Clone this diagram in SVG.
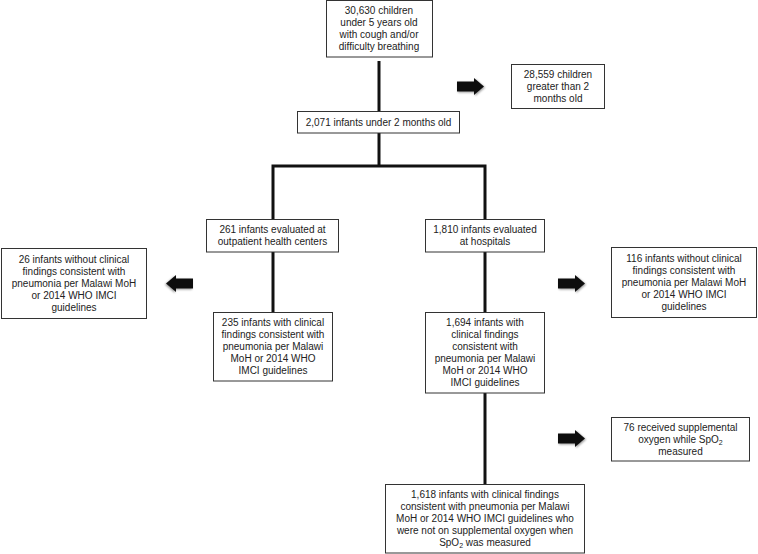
<svg xmlns="http://www.w3.org/2000/svg" xmlns:xlink="http://www.w3.org/1999/xlink" width="758" height="554" viewBox="0 0 758 554">
<style>
.box{fill:#fff;stroke:#333;stroke-width:1}
.t{font-family:"Liberation Sans",Arial,Helvetica,sans-serif;font-size:10px;fill:#222;text-anchor:middle}
.c{fill:none;stroke:#111;stroke-width:3}
.ar{fill:#111}
</style>
<defs>
<filter id="sh" x="-20%" y="-30%" width="150%" height="170%">
<feGaussianBlur in="SourceAlpha" stdDeviation="1"/>
<feOffset dx="1" dy="1" result="b"/>
<feComponentTransfer><feFuncA type="linear" slope="0.4"/></feComponentTransfer>
<feMerge><feMergeNode/><feMergeNode in="SourceGraphic"/></feMerge>
</filter>
<path id="arrowR" class="ar" d="M0,-5 L17,-5 L17,-8.5 L27,0 L17,8.5 L17,5 L0,5 Z"/>
</defs>
<rect width="758" height="554" fill="#fff"/>
<g id="connectors">
<line class="c" x1="379" y1="61" x2="379" y2="111"/>
<polyline class="c" points="379,133 379,166"/>
<polyline class="c" points="273,219 273,166 485,166 485,219"/>
<line class="c" x1="273" y1="252" x2="273" y2="312"/>
<line class="c" x1="485" y1="252" x2="485" y2="312"/>
<line class="c" x1="485" y1="393" x2="485" y2="484"/>
<use xlink:href="#arrowR" transform="translate(457,86.5)" filter="url(#sh)"/>
<use xlink:href="#arrowR" transform="translate(193,283.5) scale(-1,1)" filter="url(#sh)"/>
<use xlink:href="#arrowR" transform="translate(558,283.5)" filter="url(#sh)"/>
<use xlink:href="#arrowR" transform="translate(558,438.5)" filter="url(#sh)"/>
</g>
<g id="n1">
<rect class="box" x="326.5" y="0.5" width="106" height="56.5"/>
<text class="t" x="379"><tspan x="379" y="13.5">30,630 children</tspan><tspan x="379" y="25.5">under 5 years old</tspan><tspan x="379" y="37.5">with cough and/or</tspan><tspan x="379" y="49.5">difficulty breathing</tspan></text>
</g>
<g id="n2">
<rect class="box" x="511.5" y="64.5" width="93" height="44"/>
<text class="t"><tspan x="558" y="78">28,559 children</tspan><tspan x="558" y="90">greater than 2</tspan><tspan x="558" y="102">months old</tspan></text>
</g>
<g id="n3">
<rect class="box" x="297.5" y="111.5" width="162" height="21.5"/>
<text class="t" x="378.5" y="125.5">2,071 infants under 2 months old</text>
</g>
<g id="n4">
<rect class="box" x="206.5" y="219.5" width="132" height="32.5"/>
<text class="t"><tspan x="272.5" y="233">261 infants evaluated at</tspan><tspan x="272.5" y="245">outpatient health centers</tspan></text>
</g>
<g id="n5">
<rect class="box" x="425.5" y="219.5" width="119" height="32.5"/>
<text class="t"><tspan x="485" y="233">1,810 infants evaluated</tspan><tspan x="485" y="245">at hospitals</tspan></text>
</g>
<g id="n6">
<rect class="box" x="1.5" y="248.5" width="145" height="70"/>
<text class="t"><tspan x="74" y="262.5">26 infants without clinical</tspan><tspan x="74" y="274.5">findings consistent with</tspan><tspan x="74" y="286.5">pneumonia per Malawi MoH</tspan><tspan x="74" y="298.5">or 2014 WHO IMCI</tspan><tspan x="74" y="310.5">guidelines</tspan></text>
</g>
<g id="n7">
<rect class="box" x="611.5" y="247.5" width="145" height="70"/>
<text class="t"><tspan x="684" y="262">116 infants without clinical</tspan><tspan x="684" y="274">findings consistent with</tspan><tspan x="684" y="286">pneumonia per Malawi MoH</tspan><tspan x="684" y="298">or 2014 WHO IMCI</tspan><tspan x="684" y="310">guidelines</tspan></text>
</g>
<g id="n8">
<rect class="box" x="213.5" y="312.5" width="119" height="68.5"/>
<text class="t"><tspan x="273" y="326">235 infants with clinical</tspan><tspan x="273" y="338">findings consistent with</tspan><tspan x="273" y="350">pneumonia per Malawi</tspan><tspan x="273" y="362">MoH or 2014 WHO</tspan><tspan x="273" y="374">IMCI guidelines</tspan></text>
</g>
<g id="n9">
<rect class="box" x="425.5" y="312.5" width="119" height="80.5"/>
<text class="t"><tspan x="485" y="326">1,694 infants with</tspan><tspan x="485" y="338">clinical findings</tspan><tspan x="485" y="350">consistent with</tspan><tspan x="485" y="362">pneumonia per Malawi</tspan><tspan x="485" y="374">MoH or 2014 WHO</tspan><tspan x="485" y="386">IMCI guidelines</tspan></text>
</g>
<g id="n10">
<rect class="box" x="611.5" y="417.5" width="138" height="43.5"/>
<text class="t"><tspan x="680.5" y="430.5">76 received supplemental</tspan><tspan x="680.5" y="442.5">oxygen while SpO<tspan font-size="7" dy="2">2</tspan></tspan><tspan x="680.5" y="454.5">measured</tspan></text>
</g>
<g id="n11">
<rect class="box" x="385.5" y="484.5" width="199" height="68.5"/>
<text class="t"><tspan x="485" y="498">1,618 infants with clinical findings</tspan><tspan x="485" y="510">consistent with pneumonia per Malawi</tspan><tspan x="485" y="522">MoH or 2014 WHO IMCI guidelines who</tspan><tspan x="485" y="534">were not on supplemental oxygen when</tspan><tspan x="485" y="546">SpO<tspan font-size="7" dy="2">2</tspan><tspan dy="-2"> was measured</tspan></tspan></text>
</g>
</svg>
